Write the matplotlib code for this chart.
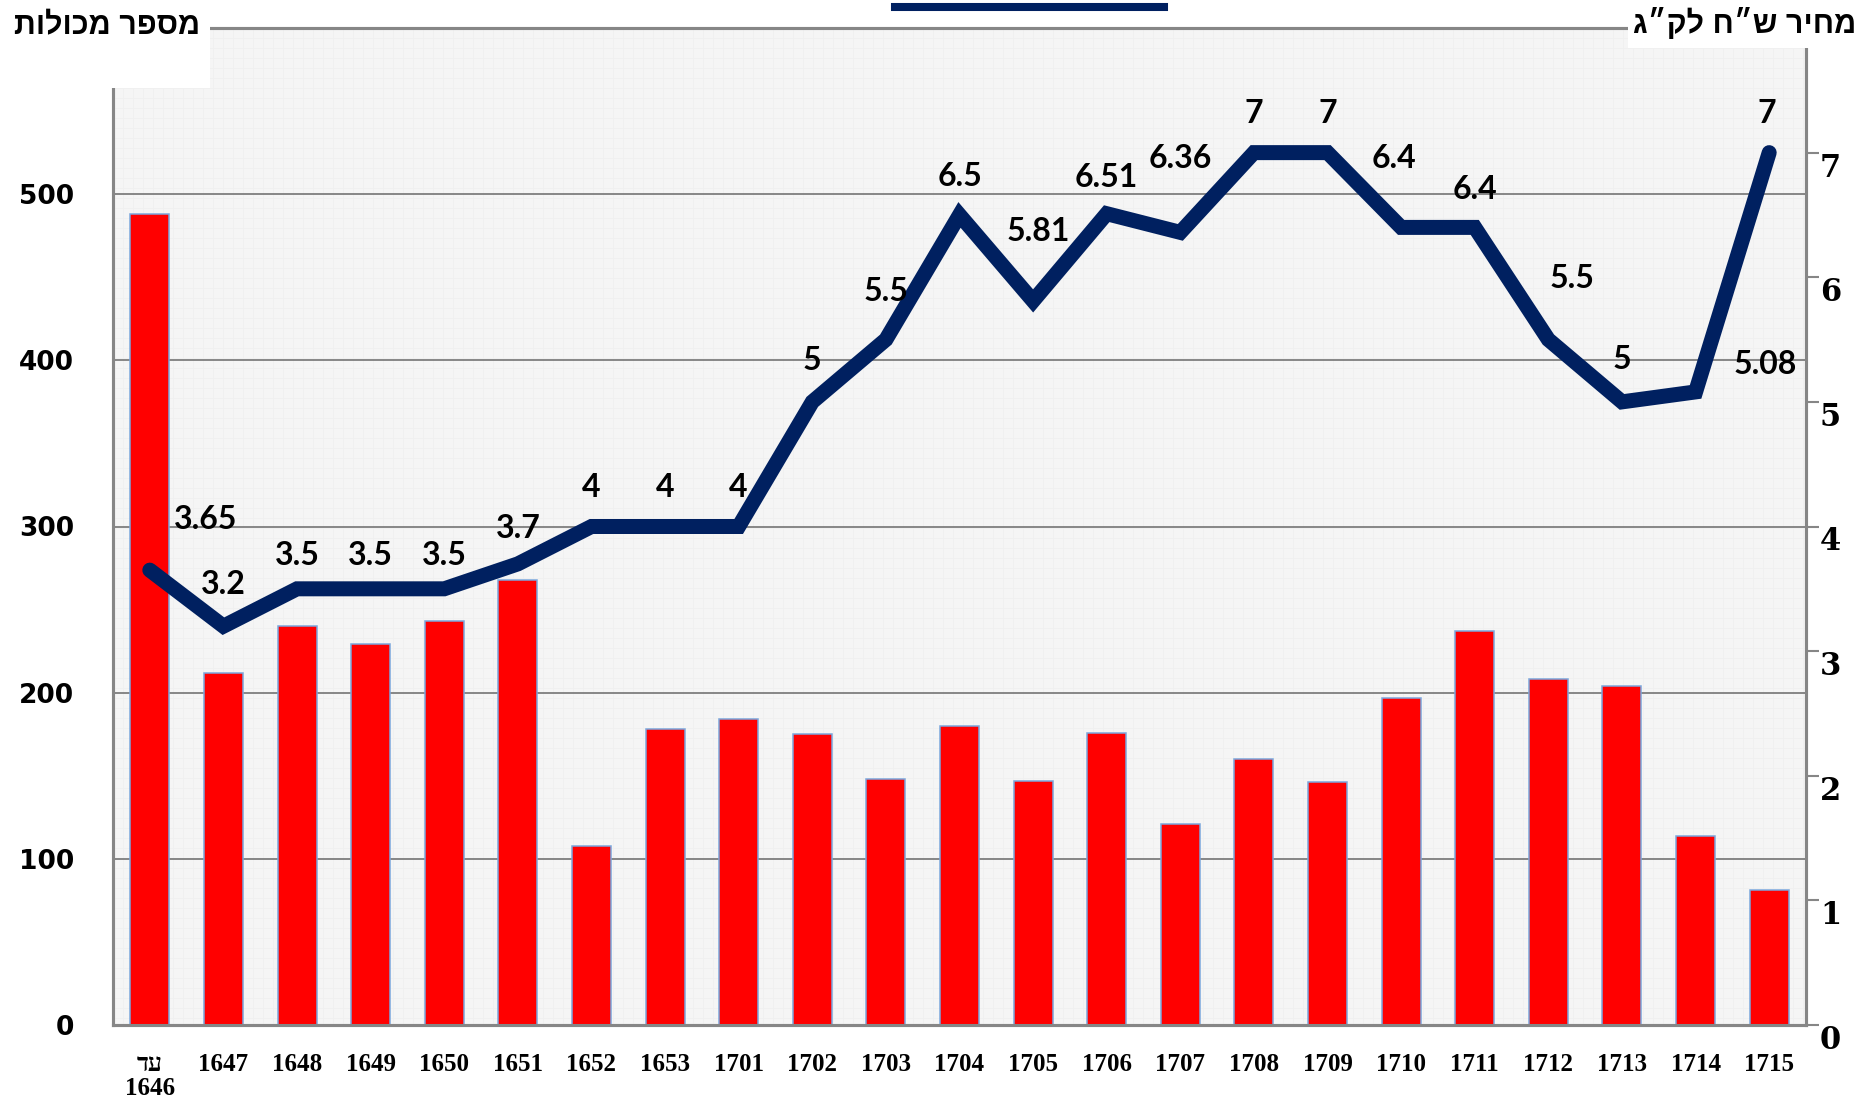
import numpy as np
import matplotlib
matplotlib.use("Agg")
import matplotlib.pyplot as plt
from matplotlib.lines import Line2D
from matplotlib.patches import Rectangle

# data
years = ["עד\n1646", "1647", "1648", "1649", "1650", "1651", "1652", "1653",
         "1701", "1702", "1703", "1704", "1705", "1706", "1707", "1708",
         "1709", "1710", "1711", "1712", "1713", "1714", "1715"]
containers = [488, 212, 240, 229, 243, 268, 108, 178, 184, 175, 148, 180,
              147, 176, 121, 160, 146, 197, 237, 208, 204, 114, 81]
price = [3.65, 3.2, 3.5, 3.5, 3.5, 3.7, 4, 4, 4, 5, 5.5, 6.5, 5.81, 6.51,
         6.36, 7, 7, 6.4, 6.4, 5.5, 5, 5.08, 7]
price_labels = ["3.65", "3.2", "3.5", "3.5", "3.5", "3.7", "4", "4", "4", "5",
                "5.5", "6.5", "5.81", "6.51", "6.36", "7", "7", "6.4", "6.4",
                "5.5", "5", "5.08", "7"]
left_title = "מספר מכולות"
right_title = "מחיר ש״ח לק״ג"

# label offsets in pixels (layout only)
label_off = [(56, 51), (0, 42), (0, 33), (0, 33), (0, 33), (0, 35), (0, 39),
             (0, 39), (0, 39), (0, 41), (0, 48), (0, 38), (5, 69), (0, 36),
             (0, 74), (0, 39), (0, 39), (-7, 69), (0, 38), (24, 61), (0, 42),
             (70, 27), (-2, 39)]


def rtl(s):
    # matplotlib has no bidi, so flip hebrew text by hand
    return "\n".join(line[::-1] if any("\u0590" <= c <= "\u05ff" for c in line) else line
                     for line in s.split("\n"))


W, H = 1872, 1098
fig = plt.figure(figsize=(W / 100, H / 100), dpi=100)
L, R, T, B = 113, 1806, 28, 1025
ax = fig.add_axes([L / W, 1 - B / H, (R - L) / W, (B - T) / H])
ax2 = ax.twinx()

grey = "#868686"
navy = "#002060"

# textured light background
ax.set_facecolor("#F4F4F4")
tex = np.full((B - T, R - L), 0.958)
tex[::10, :] = 0.94
tex[:, ::10] = 0.94
ax.imshow(tex, cmap="gray", vmin=0, vmax=1, extent=(-0.5, 22.5, 0, 600),
          aspect="auto", zorder=0, interpolation="nearest")

x = np.arange(len(years))
ax.bar(x, containers, width=0.53, color="#FF0000", edgecolor="#7BA7DD",
       linewidth=1.1, zorder=3)
ax.set_xlim(-0.5, 22.5)
ax.set_ylim(0, 600)
ax.set_yticks([0, 100, 200, 300, 400, 500])
ax.yaxis.grid(True, color=grey, linewidth=1.4, zorder=1)
ax.set_axisbelow(True)
ax.tick_params(axis="y", length=0, pad=28, labelsize=19)
for lab in ax.get_yticklabels():
    lab.set_fontweight("heavy")
    lab.set_family("DejaVu Sans")

ax.set_xticks(x)
ax.set_xticklabels([rtl(y) for y in years], fontsize=18, fontweight="heavy",
                   family=["Liberation Serif", "DejaVu Serif"], va="top",
                   linespacing=1.05)
ax.tick_params(axis="x", length=0, pad=20)

ax2.plot(x, price, color=navy, linewidth=10.8, solid_capstyle="round",
         solid_joinstyle="miter", zorder=5)
ax2.set_ylim(0, 8)
ax2.set_yticks(range(8))
ax2.tick_params(axis="y", length=9, width=1.5, color=grey, pad=1, labelsize=22)
for lab in ax2.get_yticklabels():
    lab.set_fontweight("heavy")
    lab.set_family("DejaVu Serif")
    lab.set_va("top")

for xi, yi, txt, off in zip(x, price, price_labels, label_off):
    ax2.annotate(txt, (xi, yi), xytext=off, textcoords="offset pixels",
                 ha="center", va="center", fontsize=23, fontweight="bold",
                 family=["Lato", "DejaVu Sans"], zorder=6)

for a in (ax, ax2):
    for s in a.spines.values():
        s.set_color(grey)
        s.set_linewidth(2.2)
ax2.set_zorder(ax.get_zorder() + 1)
ax2.patch.set_visible(False)

# white boxes covering the top corners, with the axis titles
fig.patches.append(Rectangle((0, 1 - 88 / H), 210 / W, 88 / H, transform=fig.transFigure,
                             facecolor="white", edgecolor="none", zorder=10))
fig.patches.append(Rectangle((1628 / W, 1 - 48 / H), (W - 1628) / W, 48 / H,
                             transform=fig.transFigure, facecolor="white",
                             edgecolor="none", zorder=10))
fig.text(107 / W, 1 - 26 / H, rtl(left_title), ha="center", va="center",
         fontsize=22, fontweight="bold", family=["Liberation Sans", "DejaVu Sans"], zorder=11)
fig.text(1745 / W, 1 - 24 / H, rtl(right_title), ha="center", va="center",
         fontsize=22, fontweight="bold", family=["Liberation Sans", "DejaVu Sans"], zorder=11)

# legend swatch at the top (text cut off in the original)
fig.add_artist(Line2D([895 / W, 1164 / W], [1 - 7 / H, 1 - 7 / H], color=navy,
                      linewidth=5.8, transform=fig.transFigure))

fig.savefig("out.png", dpi=100, facecolor="white")
